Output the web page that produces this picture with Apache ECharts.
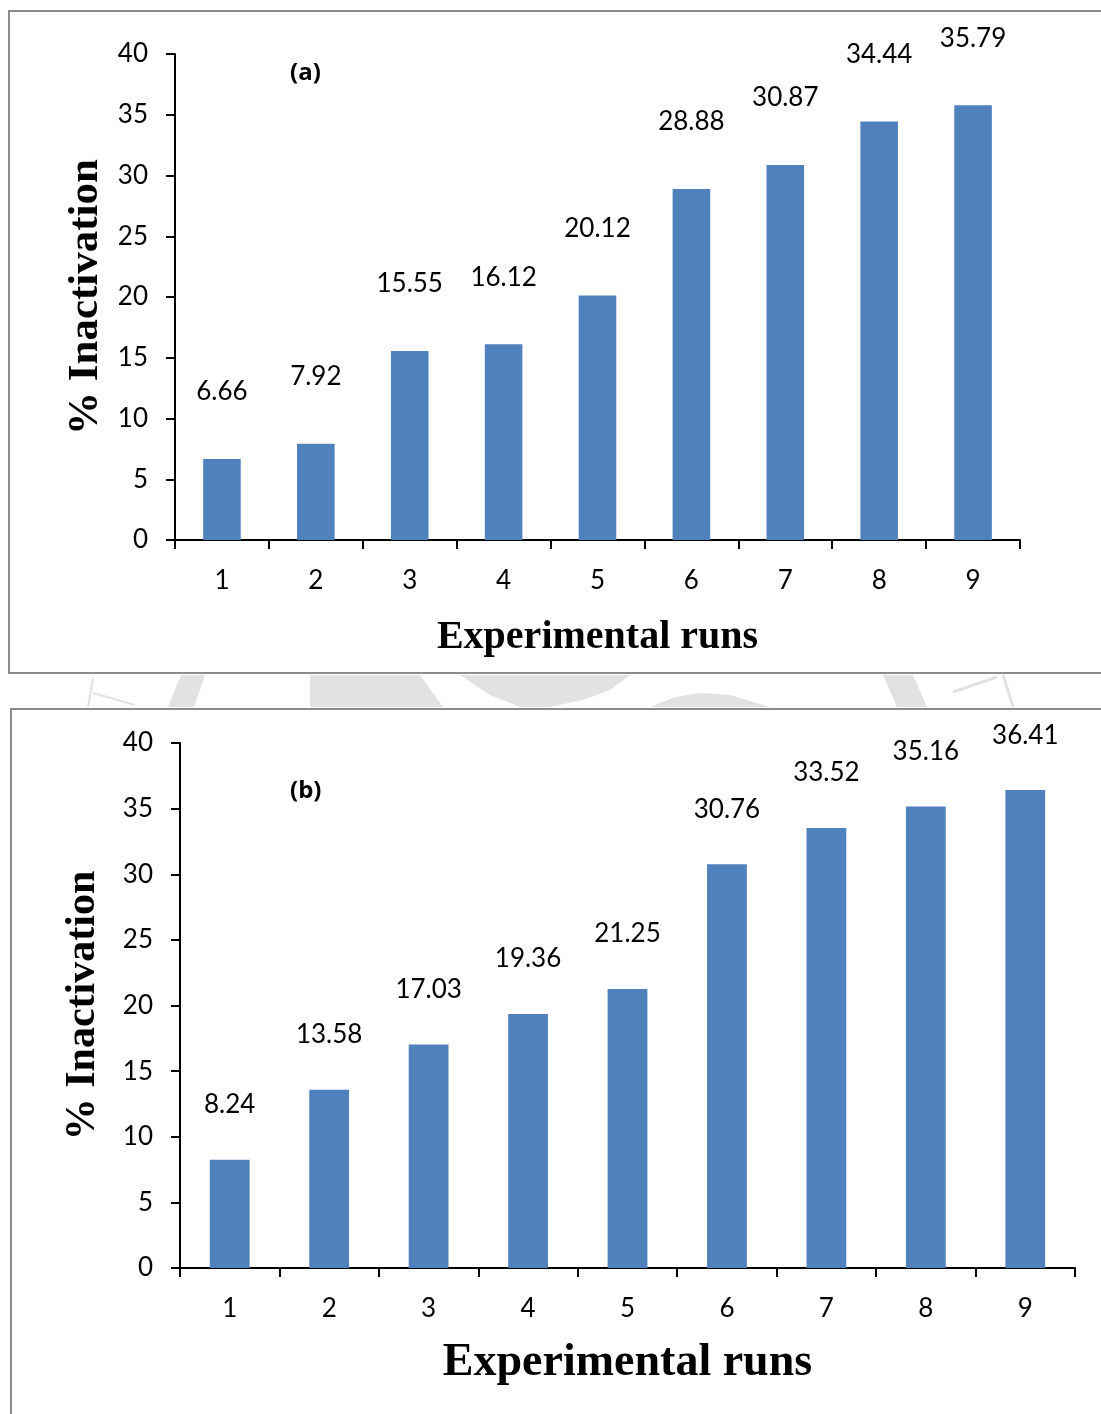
<!DOCTYPE html>
<html>
<head>
<meta charset="utf-8">
<script src="https://cdn.jsdelivr.net/npm/echarts@6/dist/echarts.min.js"></script>
<style>
  html, body { margin: 0; padding: 0; background: #fff; }
  #chart { width: 1101px; height: 1414px; }
</style>
</head>
<body>
<div id="chart"></div>
<script>
// data
const runs = ['1', '2', '3', '4', '5', '6', '7', '8', '9'];
const inactivationA = [6.66, 7.92, 15.55, 16.12, 20.12, 28.88, 30.87, 34.44, 35.79];
const inactivationB = [8.24, 13.58, 17.03, 19.36, 21.25, 30.76, 33.52, 35.16, 36.41];
const yTicks = { min: 0, max: 40, interval: 5 };

const BAR = '#4f81bd';
const SANS = 'Lato';
const SERIF = 'Liberation Serif';
const WM = '#e2e2e2';

const chart = echarts.init(document.getElementById('chart'));

function xAxis(gridIndex, nameSize, nameGap) {
  return {
    type: 'category',
    gridIndex,
    data: runs,
    name: 'Experimental runs',
    nameLocation: 'middle',
    nameGap,
    nameTextStyle: { fontFamily: SERIF, fontWeight: 'bold', fontSize: nameSize, color: '#000' },
    axisLine: { lineStyle: { color: '#000', width: 2 } },
    axisTick: { show: true, length: 9, interval: 0, lineStyle: { color: '#000', width: 2 } },
    axisLabel: { fontFamily: SANS, fontSize: 26, color: '#000', margin: 28 },
    splitLine: { show: false },
  };
}

function yAxis(gridIndex, nameSize, nameGap) {
  return {
    type: 'value',
    gridIndex,
    min: yTicks.min,
    max: yTicks.max,
    interval: yTicks.interval,
    name: '% Inactivation',
    nameLocation: 'middle',
    nameGap,
    nameRotate: 90,
    nameTextStyle: { fontFamily: SERIF, fontWeight: 'bold', fontSize: nameSize, color: '#000' },
    axisLine: { show: true, lineStyle: { color: '#000', width: 2 } },
    axisTick: { show: true, length: 9, lineStyle: { color: '#000', width: 2 } },
    axisLabel: { fontFamily: SANS, fontSize: 26, color: '#000', margin: 27 },
    splitLine: { show: false },
  };
}

function barSeries(idx, values, distance) {
  return {
    type: 'bar',
    xAxisIndex: idx,
    yAxisIndex: idx,
    data: values,
    barWidth: '40%',
    itemStyle: { color: BAR },
    label: {
      show: true,
      position: 'top',
      distance,
      fontFamily: SANS,
      fontSize: 26,
      color: '#000',
      formatter: (p) => p.value.toFixed(2),
    },
  };
}

const option = {
  animation: false,
  backgroundColor: '#fff',
  title: [
    { text: '(a)', left: 285, top: 56, textStyle: { fontFamily: 'Open Sans', fontWeight: 'bold', fontSize: 24, color: '#000' } },
    { text: '(b)', left: 285, top: 774, textStyle: { fontFamily: 'Open Sans', fontWeight: 'bold', fontSize: 24, color: '#000' } },
  ],
  grid: [
    { left: 175, right: 81, top: 54, height: 486, outerBoundsMode: 'none', containLabel: false },
    { left: 180, right: 26, top: 743, height: 525, outerBoundsMode: 'none', containLabel: false },
  ],
  xAxis: [xAxis(0, 40, 78), xAxis(1, 46, 72)],
  yAxis: [yAxis(0, 43, 66), yAxis(1, 42, 76)],
  series: [barSeries(0, inactivationA, 54), barSeries(1, inactivationB, 42)],
  graphic: [
    // faint watermark showing between the two panels
    { type: 'polygon', shape: { points: [[181, 675], [205, 675], [194, 707], [168, 707]] }, style: { fill: WM } },
    { type: 'polygon', shape: { points: [[310, 675], [420, 675], [443, 707], [310, 707]] }, style: { fill: WM } },
    { type: 'polygon', shape: { points: [[460, 675], [630, 675], [610, 690], [583, 700], [550, 707], [520, 707], [490, 695]] }, style: { fill: WM } },
    { type: 'polygon', shape: { points: [[650, 707], [675, 697], [700, 693], [730, 695], [770, 707]] }, style: { fill: WM } },
    { type: 'polygon', shape: { points: [[883, 675], [913, 675], [927, 707], [897, 707]] }, style: { fill: WM } },
    { type: 'polyline', shape: { points: [[93, 678], [88, 707]] }, style: { stroke: WM, lineWidth: 2 } },
    { type: 'polyline', shape: { points: [[93, 693], [135, 705]] }, style: { stroke: WM, lineWidth: 2 } },
    { type: 'polyline', shape: { points: [[953, 692], [997, 677]] }, style: { stroke: WM, lineWidth: 3 } },
    { type: 'polyline', shape: { points: [[1003, 675], [1013, 707]] }, style: { stroke: WM, lineWidth: 3 } },
    // panel frames
    { type: 'rect', shape: { x: 9, y: 11, width: 1100, height: 662 }, style: { fill: 'none', stroke: '#8c8c8c', lineWidth: 2 } },
    { type: 'rect', shape: { x: 11, y: 709, width: 1100, height: 720 }, style: { fill: 'none', stroke: '#8c8c8c', lineWidth: 2 } },
  ],
};

chart.setOption(option);
</script>
</body>
</html>
